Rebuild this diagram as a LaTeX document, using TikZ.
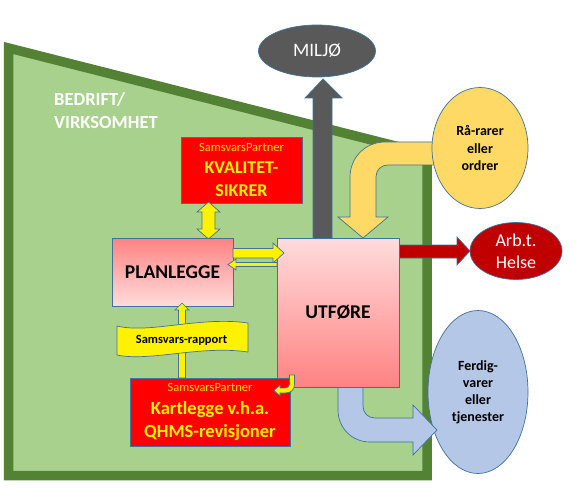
\documentclass[tikz,border=0pt]{standalone}
\usepackage{fontspec}
\setmainfont{Carlito}
\usetikzlibrary{shapes.geometric}
\definecolor{lgreen}{HTML}{A9D18E}
\definecolor{dgreen}{HTML}{548235}
\definecolor{bord}{HTML}{41719C}
\definecolor{dgray}{HTML}{595959}
\definecolor{gold}{HTML}{FFD966}
\definecolor{dred}{HTML}{C00000}
\definecolor{lblue}{HTML}{B4C7E7}
\definecolor{pdark}{HTML}{FF8282}
\definecolor{plight}{HTML}{FFDCDC}
\definecolor{ptxt}{HTML}{FFD800}
\begin{document}
\begin{tikzpicture}[x=1pt,y=-1pt,
  outl/.style={draw=bord,line width=0.7pt},
  redbox/.style={outl,fill=red,text=yellow,inner sep=0pt,align=center},
  pinkbox/.style={outl,inner sep=0pt,align=center,font=\bfseries\fontsize{19.5}{22}\selectfont},
  oval/.style={outl,ellipse,inner sep=0pt,align=center},
  yarrow/.style={outl,fill=yellow,line join=miter}]
\useasboundingbox (0,0) rectangle (578,489);
\fill[white] (0,0) rectangle (578,489);
% company area
\draw[line width=9.5pt,draw=dgreen,fill=lgreen,line join=miter]
  (8.5,48) -- (427,154) -- (427,475.5) -- (8.5,475.5) -- cycle;
\node[anchor=west,text=white,align=left,inner sep=0pt,font=\bfseries\fontsize{18.5}{23}\selectfont] (bedrift) at (54,111) {BEDRIFT/\\VIRKSOMHET};
% arrow to MILJØ
\draw[outl,fill=dgray,line join=miter] (313,245) -- (313,98) -- (305,98) -- (323,79) -- (342,98) -- (332,98) -- (332,245) -- cycle;
\node[oval,fill=dgray,text=white,minimum width=117,minimum height=52,font=\fontsize{19}{22}\selectfont] (miljo) at (317,51) {MILJØ};
% raw materials bent arrow
\draw[outl,fill=gold,line join=miter] (445,142) -- (385,142) .. controls (365,142) and (350,158) .. (350,177) -- (350,217) -- (338,217) -- (363,238) -- (388,217) -- (376,217) -- (376,177) .. controls (376,170) and (381,165) .. (388,165) -- (445,165) -- cycle;
\node[oval,fill=gold,minimum width=96,minimum height=121,font=\bfseries\fontsize{14}{17.5}\selectfont] (raa) at (480,148) {Rå-rarer\\eller\\ordrer};
% arrow to health
\draw[outl,fill=dred,line join=miter] (395,245) -- (457,245) -- (457,237) -- (470,251) -- (457,265) -- (457,258) -- (395,258) -- cycle;
\node[oval,fill=dred,text=white,minimum width=92,minimum height=57,font=\fontsize{18}{22}\selectfont] (helse) at (516,251) {Arb.t.\\Helse};
% finished goods
\node[oval,fill=lblue,minimum width=100,minimum height=163,font=\bfseries\fontsize{14}{17}\selectfont] (ferdig) at (478,392) {Ferdig-\\varer\\eller\\tjenester};
\draw[outl,fill=lblue,line join=miter] (338,380) -- (338,410) .. controls (338,428) and (352,442) .. (370,442) -- (413,442) -- (413,455) -- (437,430) -- (413,405) -- (413,418) -- (375,418) .. controls (368,418) and (363,413) .. (363,406) -- (363,380) -- cycle;
% UTFØRE
\node[pinkbox,top color=plight,bottom color=pdark,minimum width=122,minimum height=149] (utf) at (338,312.5) {UTFØRE};
% KVALITETSIKRER
\node[redbox,minimum width=121,minimum height=66,font=\bfseries\fontsize{18}{22.5}\selectfont] (kval) at (241.5,170) {{\mdseries\fontsize{12.5}{13}\selectfont\color{ptxt}SamsvarsPartner}\\KVALITET-\\SIKRER};
\draw[yarrow] (202,212) -- (202,229) -- (197,229) -- (208.5,239) -- (220,229) -- (215,229) -- (215,212) -- (220,212) -- (208.5,202) -- (197,212) -- cycle;
% PLANLEGGE
\node[pinkbox,top color=pdark,bottom color=plight,minimum width=121,minimum height=68] (plan) at (172.5,272) {PLANLEGGE};
% arrows between PLANLEGGE and UTFØRE
\draw[yarrow] (233,248.5) -- (273,248.5) -- (273,243) -- (284,253) -- (273,263) -- (273,258) -- (233,258) -- cycle;
\draw[yarrow] (277,262.5) -- (236,262.5) -- (236,259) -- (228,264.5) -- (236,270) -- (236,266.5) -- (277,266.5) -- cycle;
% report arrow and banner
\draw[yarrow] (178.5,378) -- (178.5,310) -- (175,310) -- (182,303) -- (189,310) -- (185.5,310) -- (185.5,378) -- cycle;
\draw[outl,fill=yellow] (117,326) .. controls (150,334) and (200,316) .. (248,323) -- (248,352) .. controls (200,345) and (150,362) .. (117,355) -- cycle;
\node[font=\bfseries\fontsize{12.5}{15}\selectfont,inner sep=0pt] (rapport) at (181.5,340) {Samsvars-rapport};
% KARTLEGGE
\node[redbox,minimum width=160,minimum height=68,font=\bfseries\fontsize{18.5}{23}\selectfont] (kart) at (210,412) {{\mdseries\fontsize{12.5}{13}\selectfont\color{ptxt}SamsvarsPartner}\\Kartlegge v.h.a.\\QHMS-revisjoner};
% hook arrow
\draw[yarrow] (294.5,375) -- (294.5,384) .. controls (294.5,390) and (291,393) .. (285,393) -- (280,393) -- (280,396) -- (274,390.5) -- (280,385) -- (280,388) -- (285,388) .. controls (288,388) and (289.5,386.5) .. (289.5,384) -- (289.5,375) -- cycle;
\end{tikzpicture}
\end{document}
